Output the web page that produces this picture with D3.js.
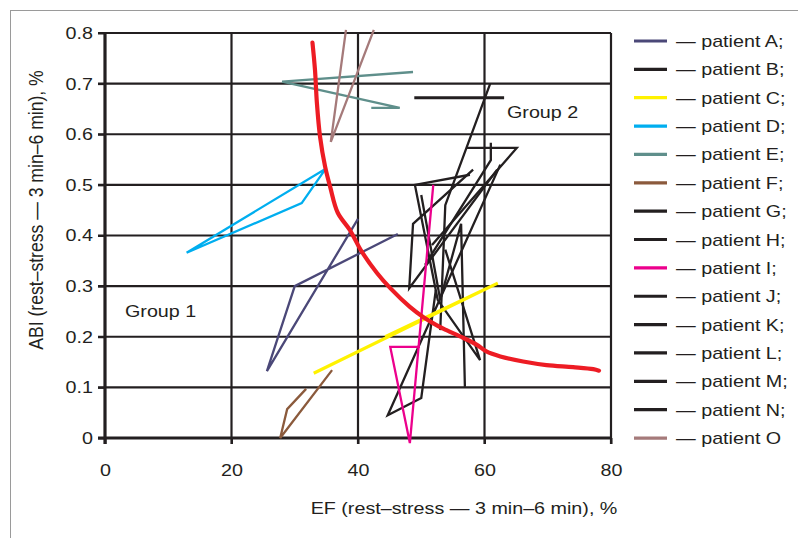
<!DOCTYPE html>
<html>
<head>
<meta charset="utf-8">
<script src="https://cdn.jsdelivr.net/npm/d3@7"></script>
<style>
  body { margin: 0; background: #fff; }
  svg text { font-family: "Liberation Sans", Arial, sans-serif; fill: #231f20; }
</style>
</head>
<body>
<div id="chart"></div>
<script>
// axis ticks
const xTicks = [0, 20, 40, 60, 80];
const yTicks = [0, 0.1, 0.2, 0.3, 0.4, 0.5, 0.6, 0.7, 0.8];

// patients: [EF, ABI] pairs
const patientA = [[46.3, 0.403], [30.0, 0.300], [25.6, 0.132], [40.0, 0.433]];
const patientB = [[48.9, 0.672], [63.1, 0.672]];
const patientC = [[33.0, 0.128], [62.1, 0.306], [44.3, 0.200]];
const patientD = [[12.9, 0.366], [34.9, 0.532], [31.1, 0.464], [12.9, 0.366]];
const patientE = [[48.7, 0.723], [28.0, 0.704], [46.6, 0.652], [42.1, 0.652]];
const patientF = [[31.8, 0.097], [28.8, 0.057], [27.7, 0.0], [35.9, 0.134]];
const patientG = [[60.9, 0.700], [53.8, 0.460], [53.0, 0.213]];
const patientH = [[57.7, 0.520], [49.0, 0.500], [52.6, 0.273], [59.3, 0.154], [53.8, 0.372]];
const patientI = [[49.8, 0.180], [45.1, 0.180], [48.2, -0.01], [51.9, 0.500]];
const patientJ = [[58.2, 0.530], [48.7, 0.423], [48.1, 0.296], [62.0, 0.530]];
const patientK = [[57.1, 0.573], [65.1, 0.573], [51.7, 0.381]];
const patientL = [[61.0, 0.583], [61.0, 0.549], [50.6, 0.342]];
const patientM = [[50.0, 0.480], [53.0, 0.273], [56.3, 0.423], [56.9, 0.101]];
const patientN = [[62.5, 0.540], [44.7, 0.045], [50.0, 0.079], [52.3, 0.292]];
const patientO = [[38.1, 0.806], [35.7, 0.585], [42.5, 0.806]];

// red trend curve
const trend = [[32.8, 0.781], [33.2, 0.727], [33.5, 0.662], [34.0, 0.595], [34.8, 0.536],
  [35.6, 0.496], [36.8, 0.445], [38.7, 0.411], [40.6, 0.368], [43.0, 0.326], [45.1, 0.296],
  [48.2, 0.259], [50.3, 0.239], [52.4, 0.223], [54.0, 0.213], [56.6, 0.198], [58.8, 0.184],
  [60.3, 0.171], [62.5, 0.161], [66.1, 0.151], [69.8, 0.144], [74.0, 0.140], [77.2, 0.136],
  [78.1, 0.133]];

const names = ["A", "B", "C", "D", "E", "F", "G", "H", "I", "J", "K", "L", "M", "N", "O"];
const colors = ["#4b4878", "#231f20", "#fff200", "#00aeef", "#5f8f8b", "#8b5a3c", "#231f20",
  "#231f20", "#ec008c", "#231f20", "#231f20", "#231f20", "#231f20", "#231f20", "#a57a7a"];
const series = [patientA, patientB, patientC, patientD, patientE, patientF, patientG,
  patientH, patientI, patientJ, patientK, patientL, patientM, patientN, patientO];

const W = 798, H = 538;
const FS = "17px";      // text looks horizontally stretched in the original
const SX = 1.16;

const svg = d3.select("#chart").append("svg")
  .attr("width", W).attr("height", H);

// grey frame
svg.append("rect")
  .attr("x", 10.5).attr("y", 10.5)
  .attr("width", 800).attr("height", 540)
  .attr("fill", "none").attr("stroke", "#9a9a9a").attr("stroke-width", 1);

const x = d3.scaleLinear().domain([0, 80]).range([105, 611]);
const y = d3.scaleLinear().domain([0, 0.8]).range([438, 33]);

// grid
svg.append("g").selectAll("line")
  .data(yTicks.slice(1))
  .join("line")
  .attr("x1", x(0) - 7).attr("x2", x(80))
  .attr("y1", d => y(d)).attr("y2", d => y(d))
  .attr("stroke", "#231f20").attr("stroke-width", 2.2);

svg.append("g").selectAll("line")
  .data(xTicks.slice(1))
  .join("line")
  .attr("x1", d => x(d)).attr("x2", d => x(d))
  .attr("y1", y(0.8)).attr("y2", y(0) + 6)
  .attr("stroke", "#231f20").attr("stroke-width", 2.2);

// axes
const yAxis = svg.append("g")
  .attr("transform", `translate(${x(0)},0)`)
  .call(d3.axisLeft(y).tickValues(yTicks).tickSize(7).tickPadding(4)
    .tickFormat(d => d === 0 ? "0" : d3.format(".1f")(d)));
yAxis.select(".domain").attr("stroke", "#231f20").attr("stroke-width", 3.2)
  .attr("d", `M0,${y(0) + 6}V${y(0.8)}`);
yAxis.selectAll(".tick line").attr("stroke", "#231f20").attr("stroke-width", 2);
yAxis.selectAll(".tick text").style("font-size", FS)
  .style("font-family", "Liberation Sans, Arial, sans-serif").attr("fill", "#231f20")
  .attr("x", -12 / SX).attr("transform", `scale(${SX},1)`);

const xAxis = svg.append("g")
  .attr("transform", `translate(0,${y(0)})`)
  .call(d3.axisBottom(x).tickValues(xTicks).tickSize(6).tickPadding(20));
xAxis.select(".domain").attr("stroke", "#231f20").attr("stroke-width", 3.2)
  .attr("d", `M${x(0) - 7},0H${x(80)}`);
xAxis.selectAll(".tick line").attr("stroke", "#231f20").attr("stroke-width", 2);
xAxis.selectAll(".tick text").style("font-size", FS)
  .style("font-family", "Liberation Sans, Arial, sans-serif").attr("fill", "#231f20")
  .attr("transform", `scale(${SX},1)`);

// data lines
const line = d3.line().x(d => x(d[0])).y(d => y(d[1]));
const order = [1, 6, 7, 9, 10, 11, 12, 13, 0, 2, 3, 4, 5, 8, 14];
svg.append("g").selectAll("path")
  .data(order)
  .join("path")
  .attr("d", i => line(series[i]))
  .attr("fill", "none")
  .attr("stroke", i => colors[i])
  .attr("stroke-width", i => i === 2 ? 3.2 : (i === 1 ? 3 : 2.3))
  .attr("stroke-linejoin", "miter");

svg.append("path")
  .attr("d", line.curve(d3.curveCatmullRom)(trend))
  .attr("fill", "none").attr("stroke", "#ed1c24").attr("stroke-width", 4.2)
  .attr("stroke-linecap", "round");

function label(px, py, txt, anchor) {
  return svg.append("text")
    .attr("transform", `translate(${px},${py}) scale(${SX},1)`)
    .attr("text-anchor", anchor || "start")
    .style("font-size", FS)
    .text(txt);
}

// group labels
label(125, 317, "Group 1");
label(507, 118, "Group 2");

// axis titles
label(464, 514, "EF (rest\u2013stress \u2014 3 min\u20136 min), %", "middle");

svg.append("text")
  .attr("transform", `translate(43,210) rotate(-90) scale(1,${SX})`)
  .attr("text-anchor", "middle").style("font-size", "17.6px")
  .text("ABI  (rest\u2013stress \u2014 3 min\u20136 min), %");

// legend
const legend = svg.append("g").selectAll("g")
  .data(names)
  .join("g")
  .attr("transform", (d, i) => `translate(634,${41 + i * 28.36})`);
legend.append("line")
  .attr("x1", 0).attr("x2", 33).attr("y1", 0).attr("y2", 0)
  .attr("stroke", (d, i) => colors[i]).attr("stroke-width", 3.2);
legend.append("text")
  .attr("transform", `translate(42,6) scale(${SX},1)`)
  .style("font-size", FS)
  .text((d, i) => "\u2014 patient " + d + (i < names.length - 1 ? ";" : ""));
</script>
</body>
</html>
